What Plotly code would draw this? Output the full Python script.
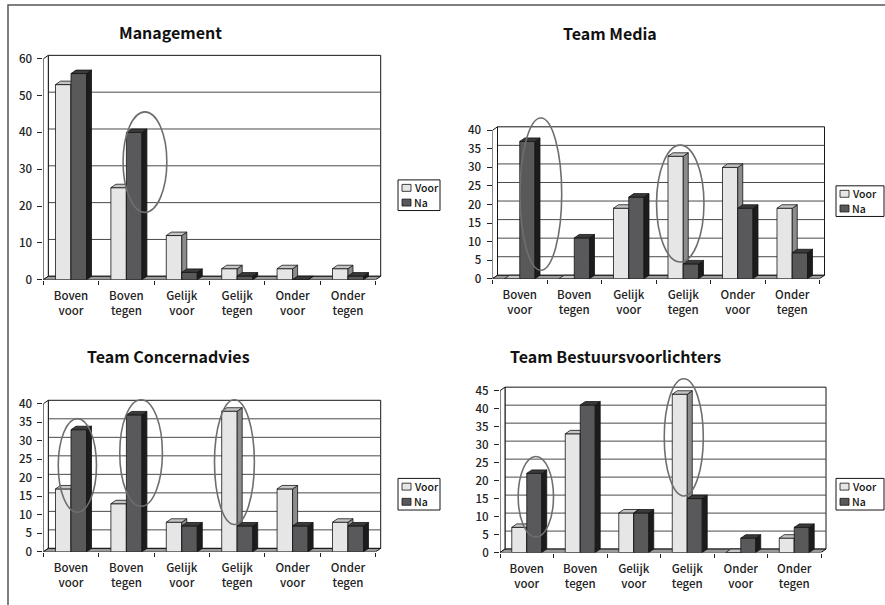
import plotly.graph_objects as go

W, H = 885, 605

# ---- data -------------------------------------------------------------
categories = ["Boven<br>voor", "Boven<br>tegen", "Gelijk<br>voor",
              "Gelijk<br>tegen", "Onder<br>voor", "Onder<br>tegen"]
series_names = ["Voor", "Na"]

management_voor = [53, 25, 12, 3, 3, 3]
management_na = [56, 40, 2, 1, 0, 1]

media_voor = [0, 0, 19, 33, 30, 19]
media_na = [37, 11, 22, 4, 19, 7]

concern_voor = [17, 13, 8, 38, 17, 8]
concern_na = [33, 37, 7, 7, 7, 7]

bestuur_voor = [7, 33, 11, 44, 0, 4]
bestuur_na = [22, 41, 11, 15, 4, 7]

titles = ["Management", "Team Media", "Team Concernadvies",
          "Team Bestuursvoorlichters"]
y_max = [60, 40, 40, 45]
y_step = [10, 5, 5, 5]

# circled groups per panel: (x0, x1, y0, y1) in axis units
highlights = [
    [(0.94, 1.73, 18.3, 45.6)],
    [(0.005, 0.77, 2.3, 43.3), (2.51, 3.38, 4.5, 36.0)],
    [(-0.23, 0.46, 10.7, 36.0), (0.88, 1.65, 12.3, 41.1), (2.59, 3.31, 7.4, 41.1)],
    [(-0.16, 0.50, 4.3, 26.7), (2.57, 3.30, 15.7, 48.3)],
]

panels = [
    (management_voor, management_na),
    (media_voor, media_na),
    (concern_voor, concern_na),
    (bestuur_voor, bestuur_na),
]

# ---- layout geometry (pixels) -----------------------------------------
# x of value axis, width per category, y of floor, pixels per unit
geometry = [
    dict(x_left=43.3, catw=55.4, floor=283.0, k=3.725, title=(170, 32), legend=(398, 182, 440, 213)),
    dict(x_left=492.5, catw=54.5, floor=282.0, k=3.755, title=(610, 33), legend=(836, 188, 884, 219)),
    dict(x_left=43.3, catw=55.4, floor=558.3, k=3.745, title=(168, 360), legend=(398, 484, 440, 516)),
    dict(x_left=500.0, catw=53.5, floor=559.0, k=3.64, title=(615, 360), legend=(836, 484, 884, 516)),
]
DEPTH_X_PX = 5.0
DEPTH_Y_PX = 3.5
BAR_W = 0.28

FONT = "Noto Sans CJK SC, Roboto, sans-serif"

VOOR = dict(front="#e6e6e6", top="#c4c4c4", side="#8c8c8c")
NA = dict(front="#59595b", top="#3a3a3a", side="#1c1c1c")
EDGE = "#151515"

fig = go.Figure()
shapes = []
annotations = []


def px_x(p):
    return p / W


def px_y(p):
    return 1 - p / H


def faces(values, offset, dxc, dyu):
    fx, fy, tx, ty, sx, sy = [], [], [], [], [], []
    for i, v in enumerate(values):
        l = i + offset
        r = l + BAR_W
        fx += [l, r, r, l, l, None]
        fy += [0, 0, v, v, 0, None]
        tx += [l, r, r + dxc, l + dxc, l, None]
        ty += [v, v, v + dyu, v + dyu, v, None]
        sx += [r, r + dxc, r + dxc, r, r, None]
        sy += [0, dyu, v + dyu, v, 0, None]
    return (fx, fy), (sx, sy), (tx, ty)


for n, ((voor, na), g) in enumerate(zip(panels, geometry), start=1):
    sfx = "" if n == 1 else str(n)
    xa, ya = f"x{sfx}", f"y{sfx}"
    ymax = y_max[n - 1]
    dxc = DEPTH_X_PX / g["catw"]
    dyu = DEPTH_Y_PX / g["k"]
    x_hi = 5.5 + dxc + 0.4
    y_hi = ymax * 1.2

    fig.layout[f"xaxis{sfx}"] = dict(
        domain=[px_x(g["x_left"]), px_x(g["x_left"] + g["catw"] * (x_hi + 0.5))],
        range=[-0.5, x_hi], anchor=ya, showgrid=False, zeroline=False,
        showline=False, tickmode="array", tickvals=list(range(6)),
        ticktext=categories, ticks="", ticklabelstandoff=8,
        tickfont=dict(family=FONT, size=11.5, color="#222", weight=500),
        minor=dict(tickmode="array", tickvals=[i - 0.5 for i in range(7)],
                   ticks="outside", ticklen=4, tickcolor="#222", showgrid=False),
        fixedrange=True,
    )
    fig.layout[f"yaxis{sfx}"] = dict(
        domain=[px_y(g["floor"]), px_y(g["floor"] - g["k"] * y_hi)],
        range=[0, y_hi], anchor=xa, showgrid=False, zeroline=False,
        showline=False, tickmode="array",
        tickvals=list(range(0, ymax + 1, y_step[n - 1])),
        ticks="outside", ticklen=5, tickcolor="#222", ticklabelstandoff=3,
        tickfont=dict(family=FONT, size=11.5, color="#222", weight=500),
        fixedrange=True,
    )

    # back wall, left wall, floor
    x0b, x1b = -0.5 + dxc, 5.5 + dxc
    shapes.append(dict(type="rect", xref=xa, yref=ya, x0=x0b, x1=x1b, y0=dyu,
                       y1=ymax + dyu, fillcolor="white",
                       line=dict(color=EDGE, width=1), layer="below"))
    for t in range(y_step[n - 1], ymax, y_step[n - 1]):
        shapes.append(dict(type="line", xref=xa, yref=ya, x0=x0b, x1=x1b,
                           y0=t + dyu, y1=t + dyu,
                           line=dict(color="#4a4a4a", width=1), layer="below"))
    shapes.append(dict(
        type="path", xref=xa, yref=ya, layer="below", fillcolor="white",
        line=dict(color=EDGE, width=1),
        path=f"M -0.5,0 L -0.5,{ymax} L {x0b},{ymax + dyu} L {x0b},{dyu} Z"))
    shapes.append(dict(
        type="path", xref=xa, yref=ya, layer="below", fillcolor="#9a9a9a",
        line=dict(color=EDGE, width=1),
        path=f"M -0.5,0 L 5.5,0 L {x1b},{dyu} L {x0b},{dyu} Z"))

    # bars: front, side and top faces of each column
    for vals, off, col in ((voor, -BAR_W, VOOR), (na, 0.0, NA)):
        front, side, top = faces(vals, off, dxc, dyu)
        for (xs, ys), c in ((front, col["front"]), (side, col["side"]), (top, col["top"])):
            fig.add_trace(go.Scatter(
                x=xs, y=ys, xaxis=xa, yaxis=ya, mode="lines", fill="toself",
                fillcolor=c, line=dict(color=EDGE, width=0.8),
                hoverinfo="skip", showlegend=False))

    # circled groups
    for (ex0, ex1, ey0, ey1) in highlights[n - 1]:
        shapes.append(dict(type="circle", xref=xa, yref=ya, x0=ex0, x1=ex1,
                           y0=ey0, y1=ey1, line=dict(color="#6e6e6e", width=1.6),
                           layer="above"))

    # title
    tx, ty = g["title"]
    annotations.append(dict(xref="paper", yref="paper", x=px_x(tx), y=px_y(ty),
                            text=f"<b>{titles[n - 1]}</b>", showarrow=False,
                            xanchor="center", yanchor="middle",
                            font=dict(family=FONT, size=16, color="#111")))

    # legend box
    lx0, ly0, lx1, ly1 = g["legend"]
    shapes.append(dict(type="rect", xref="paper", yref="paper",
                       x0=px_x(lx0), x1=px_x(lx1), y0=px_y(ly1), y1=px_y(ly0),
                       fillcolor="white", line=dict(color=EDGE, width=1)))
    lh = ly1 - ly0
    for j, (name, col) in enumerate(zip(series_names, (VOOR, NA))):
        cy = ly0 + lh * (0.26 if j == 0 else 0.74)
        shapes.append(dict(type="rect", xref="paper", yref="paper",
                           x0=px_x(lx0 + 4), x1=px_x(lx0 + 13),
                           y0=px_y(cy + 3.5), y1=px_y(cy - 3.5),
                           fillcolor=col["front"], line=dict(color=EDGE, width=0.8)))
        annotations.append(dict(xref="paper", yref="paper", x=px_x(lx0 + 15),
                                y=px_y(cy), text=name, showarrow=False,
                                xanchor="left", yanchor="middle", borderpad=0,
                                font=dict(family=FONT, size=10.5, color="#111", weight=500)))

# outer frame
shapes.append(dict(type="rect", xref="paper", yref="paper", x0=px_x(8),
                   x1=1.02, y0=-0.02, y1=px_y(5), fillcolor="rgba(0,0,0,0)",
                   line=dict(color="#555", width=1.5)))

fig.update_layout(
    width=W, height=H, margin=dict(l=0, r=0, t=0, b=0),
    paper_bgcolor="white", plot_bgcolor="rgba(0,0,0,0)",
    shapes=shapes, annotations=annotations, showlegend=False,
    font=dict(family=FONT),
)

fig.write_html("out.html")
